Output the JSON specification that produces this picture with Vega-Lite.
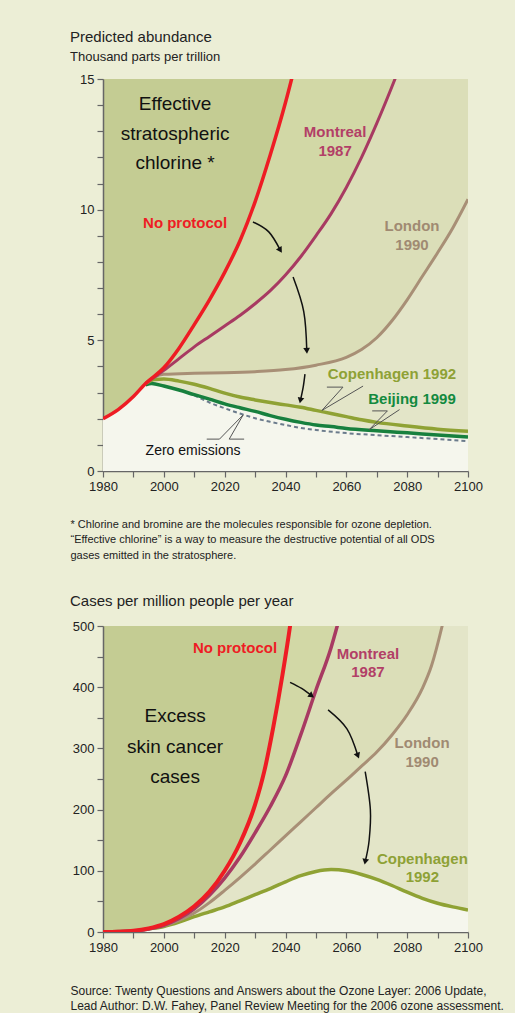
{
  "$schema": "https://vega.github.io/schema/vega-lite/v6.json",
  "background": "#eceed6",
  "padding": {"left": 70, "top": 30, "right": 10, "bottom": 5},
  "spacing": 34,
  "config": {
    "font": "Liberation Sans",
    "view": {"stroke": null},
    "axis": {"grid": false, "domainColor": "#666", "tickColor": "#666", "labelColor": "#222", "labelFontSize": 13, "tickSize": 6, "labelPadding": 3, "domainWidth": 1.5, "tickWidth": 1.2}
  },
  "datasets": {
    "top": [
      {"s":"red","year":1980,"v":2.0},{"s":"red","year":1985,"v":2.35},{"s":"red","year":1990,"v":2.85},{"s":"red","year":1994,"v":3.35},{"s":"red","year":2000,"v":3.95},{"s":"red","year":2005,"v":4.7},{"s":"red","year":2010,"v":5.6},{"s":"red","year":2015,"v":6.55},{"s":"red","year":2020,"v":7.6},{"s":"red","year":2025,"v":8.8},{"s":"red","year":2030,"v":10.3},{"s":"red","year":2035,"v":12.1},{"s":"red","year":2040,"v":14.1},{"s":"red","year":2045,"v":16.4},{"s":"red","year":2055,"v":21.5},{"s":"red","year":2070,"v":30},{"s":"red","year":2100,"v":50},
      {"s":"mont","year":1994,"v":3.35},{"s":"mont","year":2000,"v":3.85},{"s":"mont","year":2005,"v":4.3},{"s":"mont","year":2010,"v":4.75},{"s":"mont","year":2015,"v":5.15},{"s":"mont","year":2020,"v":5.55},{"s":"mont","year":2025,"v":5.95},{"s":"mont","year":2030,"v":6.4},{"s":"mont","year":2035,"v":6.9},{"s":"mont","year":2040,"v":7.5},{"s":"mont","year":2045,"v":8.2},{"s":"mont","year":2050,"v":9.0},{"s":"mont","year":2055,"v":9.85},{"s":"mont","year":2060,"v":10.85},{"s":"mont","year":2065,"v":12.0},{"s":"mont","year":2070,"v":13.3},{"s":"mont","year":2076,"v":15.0},{"s":"mont","year":2085,"v":17.8},{"s":"mont","year":2100,"v":23},
      {"s":"london","year":1994,"v":3.35},{"s":"london","year":1997,"v":3.6},{"s":"london","year":2000,"v":3.7},{"s":"london","year":2010,"v":3.74},{"s":"london","year":2020,"v":3.76},{"s":"london","year":2030,"v":3.8},{"s":"london","year":2040,"v":3.88},{"s":"london","year":2050,"v":4.05},{"s":"london","year":2060,"v":4.35},{"s":"london","year":2065,"v":4.65},{"s":"london","year":2070,"v":5.1},{"s":"london","year":2075,"v":5.75},{"s":"london","year":2080,"v":6.55},{"s":"london","year":2085,"v":7.45},{"s":"london","year":2090,"v":8.35},{"s":"london","year":2095,"v":9.3},{"s":"london","year":2100,"v":10.4},
      {"s":"cop","year":1994,"v":3.35},{"s":"cop","year":1997,"v":3.5},{"s":"cop","year":2000,"v":3.52},{"s":"cop","year":2005,"v":3.44},{"s":"cop","year":2010,"v":3.32},{"s":"cop","year":2015,"v":3.16},{"s":"cop","year":2020,"v":2.98},{"s":"cop","year":2025,"v":2.83},{"s":"cop","year":2030,"v":2.72},{"s":"cop","year":2035,"v":2.62},{"s":"cop","year":2040,"v":2.53},{"s":"cop","year":2045,"v":2.44},{"s":"cop","year":2050,"v":2.32},{"s":"cop","year":2055,"v":2.2},{"s":"cop","year":2060,"v":2.08},{"s":"cop","year":2065,"v":1.96},{"s":"cop","year":2070,"v":1.86},{"s":"cop","year":2080,"v":1.72},{"s":"cop","year":2090,"v":1.6},{"s":"cop","year":2100,"v":1.52},
      {"s":"beij","year":1994,"v":3.3},{"s":"beij","year":1996,"v":3.35},{"s":"beij","year":2000,"v":3.25},{"s":"beij","year":2005,"v":3.1},{"s":"beij","year":2010,"v":2.92},{"s":"beij","year":2015,"v":2.75},{"s":"beij","year":2020,"v":2.57},{"s":"beij","year":2025,"v":2.42},{"s":"beij","year":2030,"v":2.28},{"s":"beij","year":2035,"v":2.12},{"s":"beij","year":2040,"v":1.98},{"s":"beij","year":2045,"v":1.86},{"s":"beij","year":2050,"v":1.76},{"s":"beij","year":2055,"v":1.7},{"s":"beij","year":2060,"v":1.63},{"s":"beij","year":2070,"v":1.54},{"s":"beij","year":2080,"v":1.46},{"s":"beij","year":2090,"v":1.38},{"s":"beij","year":2100,"v":1.3},
      {"s":"zero","year":2010,"v":2.9},{"s":"zero","year":2015,"v":2.62},{"s":"zero","year":2020,"v":2.4},{"s":"zero","year":2025,"v":2.2},{"s":"zero","year":2030,"v":2.02},{"s":"zero","year":2035,"v":1.88},{"s":"zero","year":2040,"v":1.76},{"s":"zero","year":2045,"v":1.65},{"s":"zero","year":2050,"v":1.57},{"s":"zero","year":2060,"v":1.45},{"s":"zero","year":2070,"v":1.37},{"s":"zero","year":2080,"v":1.3},{"s":"zero","year":2090,"v":1.22},{"s":"zero","year":2100,"v":1.14}
    ],
    "topLead": [
      {"g":"cop","i":0,"year":2053.6,"v":3.21},{"g":"cop","i":1,"year":2058.9,"v":3.21},{"g":"cop","i":2,"year":2052,"v":2.32},{"g":"cop","i":3,"year":2065.5,"v":3.25},
      {"g":"beij","i":0,"year":2068.5,"v":2.3},{"g":"beij","i":1,"year":2073.5,"v":2.3},{"g":"beij","i":2,"year":2067.5,"v":1.58},{"g":"beij","i":3,"year":2077.5,"v":2.35},
      {"g":"zero","i":0,"year":2014.1,"v":1.22},{"g":"zero","i":1,"year":2018.3,"v":1.22},{"g":"zero","i":2,"year":2026.1,"v":2.15},{"g":"zero","i":3,"year":2021.5,"v":1.22},{"g":"zero","i":4,"year":2026.4,"v":1.22}
    ],
    "topArrow": [
      {"g":"a1","i":0,"year":2029.3,"v":9.53},{"g":"a1","i":1,"year":2034.5,"v":9.15},{"g":"a1","i":2,"year":2038.3,"v":8.45,"tip":true},
      {"g":"a2","i":0,"year":2042.5,"v":7.42},{"g":"a2","i":1,"year":2046.0,"v":6.1},{"g":"a2","i":2,"year":2047,"v":4.6,"tip":true},
      {"g":"a3","i":0,"year":2046.4,"v":3.71},{"g":"a3","i":1,"year":2045.8,"v":3.2},{"g":"a3","i":2,"year":2044.9,"v":2.7,"tip":true}
    ],
    "topBig": [
      {"t":"Effective","year":2003.7,"v":14.05},{"t":"stratospheric","year":2003.7,"v":12.9},{"t":"chlorine *","year":2003.7,"v":11.8}
    ],
    "topLabel": [
      {"t":"No protocol","s":"red","year":2007,"v":9.49},
      {"t":"Montreal","s":"mont","year":2056.3,"v":12.97},{"t":"1987","s":"mont","year":2056.3,"v":12.25},
      {"t":"London","s":"london","year":2081.6,"v":9.38},{"t":"1990","s":"london","year":2081.6,"v":8.65},
      {"t":"Copenhagen 1992","s":"cop","year":2075,"v":3.71},
      {"t":"Beijing 1999","s":"beij","year":2081.6,"v":2.76}
    ],
    "topZero": [{"t":"Zero emissions","year":2009.6,"v":0.77}],
    "bot": [
      {"s":"red","year":1980,"v":0},{"s":"red","year":1985,"v":0.5},{"s":"red","year":1990,"v":2},{"s":"red","year":1995,"v":6},{"s":"red","year":2000,"v":13},{"s":"red","year":2005,"v":25},{"s":"red","year":2010,"v":42},{"s":"red","year":2015,"v":66},{"s":"red","year":2020,"v":100},{"s":"red","year":2025,"v":145},{"s":"red","year":2030,"v":208},{"s":"red","year":2033,"v":262},{"s":"red","year":2036,"v":335},{"s":"red","year":2039,"v":420},{"s":"red","year":2041.5,"v":500},{"s":"red","year":2045,"v":640},{"s":"red","year":2060,"v":1400},{"s":"red","year":2100,"v":4000},
      {"s":"mont","year":1980,"v":0},{"s":"mont","year":1990,"v":1.5},{"s":"mont","year":1995,"v":5},{"s":"mont","year":2000,"v":11},{"s":"mont","year":2005,"v":22},{"s":"mont","year":2010,"v":38},{"s":"mont","year":2015,"v":60},{"s":"mont","year":2020,"v":88},{"s":"mont","year":2025,"v":122},{"s":"mont","year":2030,"v":162},{"s":"mont","year":2035,"v":205},{"s":"mont","year":2040,"v":255},{"s":"mont","year":2045,"v":322},{"s":"mont","year":2050,"v":395},{"s":"mont","year":2055,"v":465},{"s":"mont","year":2057,"v":500},{"s":"mont","year":2062,"v":600},{"s":"mont","year":2100,"v":1500},
      {"s":"london","year":1980,"v":0},{"s":"london","year":1990,"v":1.5},{"s":"london","year":1995,"v":5},{"s":"london","year":2000,"v":10},{"s":"london","year":2005,"v":19},{"s":"london","year":2010,"v":31},{"s":"london","year":2015,"v":48},{"s":"london","year":2020,"v":68},{"s":"london","year":2025,"v":89},{"s":"london","year":2030,"v":111},{"s":"london","year":2035,"v":134},{"s":"london","year":2040,"v":157},{"s":"london","year":2045,"v":180},{"s":"london","year":2050,"v":203},{"s":"london","year":2055,"v":226},{"s":"london","year":2060,"v":248},{"s":"london","year":2065,"v":271},{"s":"london","year":2070,"v":294},{"s":"london","year":2075,"v":322},{"s":"london","year":2080,"v":355},{"s":"london","year":2085,"v":398},{"s":"london","year":2088,"v":435},{"s":"london","year":2091.5,"v":500},{"s":"london","year":2095,"v":580},{"s":"london","year":2100,"v":700},
      {"s":"cop","year":1980,"v":0},{"s":"cop","year":1990,"v":1.5},{"s":"cop","year":1995,"v":5},{"s":"cop","year":2000,"v":9},{"s":"cop","year":2005,"v":16},{"s":"cop","year":2010,"v":25},{"s":"cop","year":2015,"v":33},{"s":"cop","year":2020,"v":41},{"s":"cop","year":2025,"v":51},{"s":"cop","year":2030,"v":61},{"s":"cop","year":2035,"v":71},{"s":"cop","year":2040,"v":82},{"s":"cop","year":2045,"v":92},{"s":"cop","year":2050,"v":99},{"s":"cop","year":2055,"v":102},{"s":"cop","year":2060,"v":100},{"s":"cop","year":2065,"v":94},{"s":"cop","year":2070,"v":86},{"s":"cop","year":2075,"v":76},{"s":"cop","year":2080,"v":65},{"s":"cop","year":2085,"v":55},{"s":"cop","year":2090,"v":47},{"s":"cop","year":2095,"v":41},{"s":"cop","year":2100,"v":36}
    ],
    "botArrow": [
      {"g":"b1","i":0,"year":2041.5,"v":408},{"g":"b1","i":1,"year":2045.3,"v":398},{"g":"b1","i":2,"year":2048.6,"v":386,"tip":true},
      {"g":"b2","i":0,"year":2054,"v":363},{"g":"b2","i":1,"year":2060.2,"v":332},{"g":"b2","i":2,"year":2063.8,"v":288,"tip":true},
      {"g":"b3","i":0,"year":2066.2,"v":262},{"g":"b3","i":1,"year":2067.9,"v":200},{"g":"b3","i":2,"year":2067.5,"v":150},{"g":"b3","i":3,"year":2066.2,"v":115,"tip":true}
    ],
    "botBig": [
      {"t":"Excess","year":2003.7,"v":353},{"t":"skin cancer","year":2003.7,"v":302},{"t":"cases","year":2003.7,"v":253}
    ],
    "botLabel": [
      {"t":"No protocol","s":"red","year":2023.4,"v":464},
      {"t":"Montreal","s":"mont","year":2067.1,"v":454},{"t":"1987","s":"mont","year":2067.1,"v":425},
      {"t":"London","s":"london","year":2084.9,"v":309},{"t":"1990","s":"london","year":2084.9,"v":278},
      {"t":"Copenhagen","s":"cop","year":2085,"v":119},{"t":"1992","s":"cop","year":2085,"v":90}
    ]
  },
  "vconcat": [
    {
      "width": 365,
      "height": 392,
      "view": {"fill": "#c4cc93", "stroke": null},
      "title": {"text": "Predicted abundance", "subtitle": "Thousand parts per trillion", "anchor": "start", "frame": "group", "dx": -33, "fontSize": 15, "fontWeight": "normal", "color": "#222", "subtitleFontSize": 13, "subtitleColor": "#222", "subtitlePadding": 6, "offset": 9},
      "encoding": {
        "x": {"field": "year", "type": "quantitative", "scale": {"domain": [1980, 2100], "nice": false, "zero": false},
          "axis": {"values": [1980,1990,2000,2010,2020,2030,2040,2050,2060,2070,2080,2090,2100], "format": "d", "labelExpr": "datum.value % 20 == 0 ? datum.label : ''", "labelFlush": false,
            "title": ["* Chlorine and bromine are the molecules responsible for ozone depletion.", "“Effective chlorine” is a way to measure the destructive potential of all ODS", "gases emitted in the stratosphere."],
            "titleAnchor": "start", "titleAlign": "left", "titleX": -33, "titleY": 47, "titleBaseline": "top", "titleFontSize": 11, "titleFontWeight": "normal", "titleColor": "#222", "titleLineHeight": 15.5}},
        "y": {"field": "v", "type": "quantitative", "scale": {"domain": [0, 15], "nice": false},
          "axis": {"values": [0,1,2,3,4,5,6,7,8,9,10,11,12,13,14,15], "labelExpr": "datum.value % 5 == 0 ? datum.label : ''", "title": null}}
      },
      "layer": [
        {"data": {"name": "top"}, "transform": [{"filter": "datum.s == 'red' && datum.year >= 1994"}], "mark": {"type": "area", "clip": true, "interpolate": "monotone", "color": "#d2d8a6"}, "encoding": {}},
        {"data": {"name": "top"}, "transform": [{"filter": "datum.s == 'mont'"}], "mark": {"type": "area", "clip": true, "interpolate": "monotone", "color": "#dbdeb8"}, "encoding": {}},
        {"data": {"name": "top"}, "transform": [{"filter": "datum.s == 'london'"}], "mark": {"type": "area", "clip": true, "interpolate": "monotone", "color": "#e3e5c8"}, "encoding": {}},
        {"data": {"name": "top"}, "transform": [{"filter": "(datum.s == 'red' && datum.year < 1994) || datum.s == 'beij'"}], "mark": {"type": "area", "clip": true, "interpolate": "monotone", "color": "#f5f6ed"}, "encoding": {}},
        {"data": {"name": "top"}, "transform": [{"filter": "datum.s == 'zero'"}], "mark": {"type": "line", "clip": true, "interpolate": "monotone", "color": "#6b7b8c", "strokeWidth": 2, "strokeDash": [4, 3]}, "encoding": {}},
        {"data": {"name": "top"}, "transform": [{"filter": "datum.s == 'beij'"}], "mark": {"type": "line", "clip": true, "interpolate": "monotone", "color": "#17803e", "strokeWidth": 3.5}, "encoding": {}},
        {"data": {"name": "top"}, "transform": [{"filter": "datum.s == 'cop'"}], "mark": {"type": "line", "clip": true, "interpolate": "monotone", "color": "#8fa234", "strokeWidth": 3.5}, "encoding": {}},
        {"data": {"name": "top"}, "transform": [{"filter": "datum.s == 'london'"}], "mark": {"type": "line", "clip": true, "interpolate": "monotone", "color": "#a88f76", "strokeWidth": 3}, "encoding": {}},
        {"data": {"name": "top"}, "transform": [{"filter": "datum.s == 'mont'"}], "mark": {"type": "line", "clip": true, "interpolate": "monotone", "color": "#a83a62", "strokeWidth": 3}, "encoding": {}},
        {"data": {"name": "top"}, "transform": [{"filter": "datum.s == 'red'"}], "mark": {"type": "line", "clip": true, "interpolate": "monotone", "color": "#ee1c24", "strokeWidth": 3.5}, "encoding": {}},
        {"data": {"name": "topLead"}, "mark": {"type": "line", "color": "#555", "strokeWidth": 1}, "encoding": {"detail": {"field": "g"}, "order": {"field": "i", "type": "quantitative"}}},
        {"data": {"name": "topArrow"}, "mark": {"type": "line", "color": "#111", "strokeWidth": 1.5, "interpolate": "cardinal"}, "encoding": {"detail": {"field": "g"}, "order": {"field": "i", "type": "quantitative"}}},
        {"data": {"name": "topArrow"}, "transform": [{"filter": "datum.tip && datum.g == 'a1'"}], "mark": {"type": "point", "shape": "triangle-down", "filled": true, "color": "#111", "size": 45, "opacity": 1, "angle": 328}, "encoding": {}},
        {"data": {"name": "topArrow"}, "transform": [{"filter": "datum.tip && datum.g == 'a2'"}], "mark": {"type": "point", "shape": "triangle-down", "filled": true, "color": "#111", "size": 45, "opacity": 1, "angle": 356}, "encoding": {}},
        {"data": {"name": "topArrow"}, "transform": [{"filter": "datum.tip && datum.g == 'a3'"}], "mark": {"type": "point", "shape": "triangle-down", "filled": true, "color": "#111", "size": 45, "opacity": 1, "angle": 12}, "encoding": {}},
        {"data": {"name": "topBig"}, "mark": {"type": "text", "fontSize": 19, "color": "#111", "align": "center", "baseline": "middle"}, "encoding": {"text": {"field": "t"}}},
        {"data": {"name": "topLabel"}, "mark": {"type": "text", "fontSize": 15, "fontWeight": "bold", "align": "center", "baseline": "middle"},
          "encoding": {"text": {"field": "t"}, "color": {"field": "s", "type": "nominal", "legend": null, "scale": {"domain": ["red", "mont", "london", "cop", "beij"], "range": ["#ee1c24", "#b23f67", "#a08a72", "#8ea135", "#138a3f"]}}}},
        {"data": {"name": "topZero"}, "mark": {"type": "text", "fontSize": 14, "color": "#111", "align": "center", "baseline": "middle"}, "encoding": {"text": {"field": "t"}}}
      ]
    },
    {
      "width": 365,
      "height": 306,
      "view": {"fill": "#c4cc93", "stroke": null},
      "title": {"text": "Cases per million people per year", "anchor": "start", "frame": "group", "dx": -33, "fontSize": 15, "fontWeight": "normal", "color": "#222", "offset": 11},
      "encoding": {
        "x": {"field": "year", "type": "quantitative", "scale": {"domain": [1980, 2100], "nice": false, "zero": false},
          "axis": {"values": [1980,1990,2000,2010,2020,2030,2040,2050,2060,2070,2080,2090,2100], "format": "d", "labelExpr": "datum.value % 20 == 0 ? datum.label : ''", "labelFlush": false,
            "title": ["Source:   Twenty Questions and Answers about the Ozone Layer: 2006 Update,", "Lead Author: D.W. Fahey, Panel Review Meeting for the 2006 ozone assessment."],
            "titleAnchor": "start", "titleAlign": "left", "titleX": -33, "titleY": 53, "titleBaseline": "top", "titleFontSize": 12, "titleFontWeight": "normal", "titleColor": "#222", "titleLineHeight": 15}},
        "y": {"field": "v", "type": "quantitative", "scale": {"domain": [0, 500], "nice": false},
          "axis": {"values": [0,50,100,150,200,250,300,350,400,450,500], "labelExpr": "datum.value % 100 == 0 ? datum.label : ''", "title": null}}
      },
      "layer": [
        {"data": {"name": "bot"}, "transform": [{"filter": "datum.s == 'red'"}], "mark": {"type": "area", "clip": true, "interpolate": "monotone", "color": "#d2d8a6"}, "encoding": {}},
        {"data": {"name": "bot"}, "transform": [{"filter": "datum.s == 'mont'"}], "mark": {"type": "area", "clip": true, "interpolate": "monotone", "color": "#dbdeb8"}, "encoding": {}},
        {"data": {"name": "bot"}, "transform": [{"filter": "datum.s == 'london'"}], "mark": {"type": "area", "clip": true, "interpolate": "monotone", "color": "#e3e5c8"}, "encoding": {}},
        {"data": {"name": "bot"}, "transform": [{"filter": "datum.s == 'cop'"}], "mark": {"type": "area", "clip": true, "interpolate": "monotone", "color": "#f5f6ed"}, "encoding": {}},
        {"data": {"name": "bot"}, "transform": [{"filter": "datum.s == 'cop'"}], "mark": {"type": "line", "clip": true, "interpolate": "monotone", "color": "#8fa234", "strokeWidth": 3.5}, "encoding": {}},
        {"data": {"name": "bot"}, "transform": [{"filter": "datum.s == 'london'"}], "mark": {"type": "line", "clip": true, "interpolate": "monotone", "color": "#a88f76", "strokeWidth": 3}, "encoding": {}},
        {"data": {"name": "bot"}, "transform": [{"filter": "datum.s == 'mont'"}], "mark": {"type": "line", "clip": true, "interpolate": "monotone", "color": "#a83a62", "strokeWidth": 3.5}, "encoding": {}},
        {"data": {"name": "bot"}, "transform": [{"filter": "datum.s == 'red'"}], "mark": {"type": "line", "clip": true, "interpolate": "monotone", "color": "#ee1c24", "strokeWidth": 4}, "encoding": {}},
        {"data": {"name": "botArrow"}, "mark": {"type": "line", "color": "#111", "strokeWidth": 1.5, "interpolate": "cardinal"}, "encoding": {"detail": {"field": "g"}, "order": {"field": "i", "type": "quantitative"}}},
        {"data": {"name": "botArrow"}, "transform": [{"filter": "datum.tip && datum.g == 'b1'"}], "mark": {"type": "point", "shape": "triangle-down", "filled": true, "color": "#111", "size": 45, "opacity": 1, "angle": 306}, "encoding": {}},
        {"data": {"name": "botArrow"}, "transform": [{"filter": "datum.tip && datum.g == 'b2'"}], "mark": {"type": "point", "shape": "triangle-down", "filled": true, "color": "#111", "size": 45, "opacity": 1, "angle": 338}, "encoding": {}},
        {"data": {"name": "botArrow"}, "transform": [{"filter": "datum.tip && datum.g == 'b3'"}], "mark": {"type": "point", "shape": "triangle-down", "filled": true, "color": "#111", "size": 45, "opacity": 1, "angle": 11}, "encoding": {}},
        {"data": {"name": "botBig"}, "mark": {"type": "text", "fontSize": 19, "color": "#111", "align": "center", "baseline": "middle"}, "encoding": {"text": {"field": "t"}}},
        {"data": {"name": "botLabel"}, "mark": {"type": "text", "fontSize": 15, "fontWeight": "bold", "align": "center", "baseline": "middle"},
          "encoding": {"text": {"field": "t"}, "color": {"field": "s", "type": "nominal", "legend": null, "scale": {"domain": ["red", "mont", "london", "cop"], "range": ["#ee1c24", "#b23f67", "#a08a72", "#8ea135"]}}}}
      ]
    }
  ]
}
